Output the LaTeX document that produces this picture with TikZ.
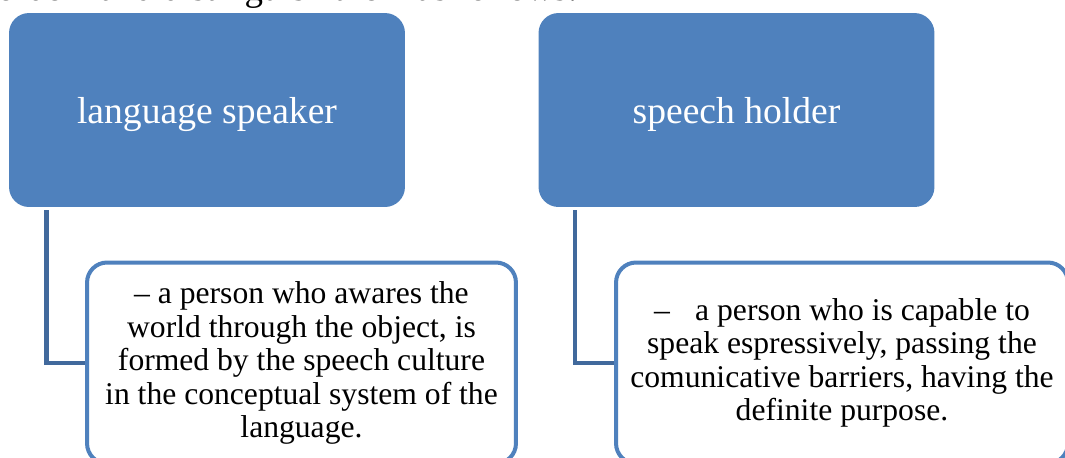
\documentclass[tikz,border=0pt]{standalone}
\usepackage{fontspec}
\setmainfont{Liberation Serif}
\usepackage{tikz}
\definecolor{boxblue}{HTML}{4F81BD}
\definecolor{lineblue}{HTML}{41699C}

\begin{document}
\begin{tikzpicture}[x=0.02cm, y=-0.02cm,
		head_style/.style={rectangle,rounded corners=0.4cm,fill=boxblue,text=white,minimum width=7.92cm,minimum height=3.88cm,text height=20pt,text depth=4.5pt,font=\fontsize{21.4}{25}\selectfont},
		body_style/.style={rectangle,rounded corners=0.4cm,draw=boxblue,line width=0.08cm,fill=white,align=center,minimum height=4.02cm,font=\fontsize{18}{19.1}\selectfont},
		edge_style/.style={draw=lineblue,line width=0.09cm}]
		\useasboundingbox (0,0) rectangle (1065,457);
		\clip (0,0) rectangle (1065,457);
		\node[anchor=base east,font=\fontsize{21}{25}\selectfont] (intro) at (584,0.5) {order” and distinguish them as follows:};
		\node[head_style] (speaker) at (207,110) {language speaker};
		\node[head_style] (holder) at (736.5,110) {speech holder};
		\node[body_style,minimum width=8.58cm] (speakerdef) at (301.5,363) {– a person who awares the\\ world through the object, is\\ formed by the speech culture\\ in the conceptual system of the\\ language.};
		\node[body_style,minimum width=9.04cm] (holderdef) at (842,363) {–\hspace{0.8em}a person who is capable to\\ speak espressively, passing the\\ comunicative barriers, having the\\ definite purpose.};
		\draw[edge_style] ([xshift=0.76cm,yshift=-0.06cm]speaker.south west) |- (speakerdef.west);
		\draw[edge_style] ([xshift=0.74cm,yshift=-0.06cm]holder.south west) |- (holderdef.west);
\end{tikzpicture}
\end{document}
